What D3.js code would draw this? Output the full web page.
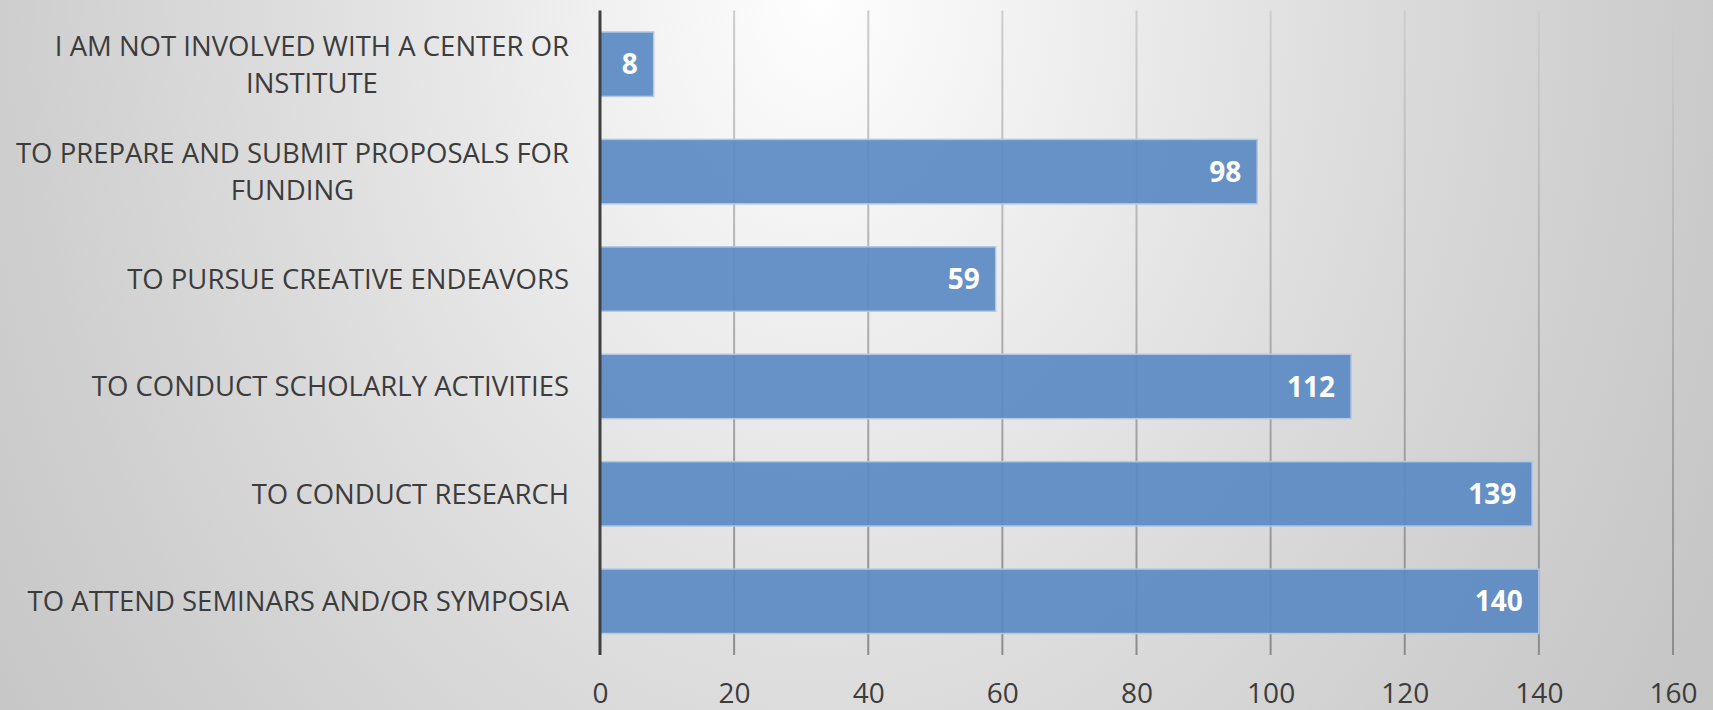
<!DOCTYPE html>
<html lang="en">
<head>
    <meta charset="UTF-8">
    <title>Center or Institute Involvement</title>
    <script src="https://cdn.jsdelivr.net/npm/d3@7"></script>
    <style>
        body, html {
            margin: 0;
            padding: 0;
            overflow: hidden;
        }
        svg {
            display: block;
        }
        text {
            font-family: "Open Sans", sans-serif;
        }
        .cat-label {
            font-size: 27.5px;
            fill: #3c3c3c;
        }
        .tick text {
            font-size: 28px;
            fill: #3c3c3c;
        }
        .value-label {
            font-size: 28px;
            font-weight: bold;
            fill: #fff;
        }
    </style>
</head>
<body>
    <script>
        // categories top to bottom, "\n" marks where the label wraps
        const categories = [
            "I AM NOT INVOLVED WITH A CENTER OR\nINSTITUTE",
            "TO PREPARE AND SUBMIT PROPOSALS FOR\nFUNDING",
            "TO PURSUE CREATIVE ENDEAVORS",
            "TO CONDUCT SCHOLARLY ACTIVITIES",
            "TO CONDUCT RESEARCH",
            "TO ATTEND SEMINARS AND/OR SYMPOSIA"
        ];
        const counts = [8, 98, 59, 112, 139, 140];
        const xTicks = [0, 20, 40, 60, 80, 100, 120, 140, 160];

        const width = 1713;
        const height = 710;
        const margin = {top: 10.5, right: 40, bottom: 55, left: 600};

        const svg = d3.select("body").append("svg")
            .attr("width", width)
            .attr("height", height);

        const defs = svg.append("defs");

        // soft grey backdrop, lightest near the top middle
        const bg = defs.append("radialGradient")
            .attr("id", "bg")
            .attr("gradientUnits", "userSpaceOnUse")
            .attr("cx", 0).attr("cy", 0).attr("r", 1)
            .attr("gradientTransform", "translate(820,0) scale(1000,1300)");
        bg.append("stop").attr("offset", 0).attr("stop-color", "#fefefe");
        bg.append("stop").attr("offset", 0.55).attr("stop-color", "#dcdcdc");
        bg.append("stop").attr("offset", 0.8).attr("stop-color", "#cfcfcf");
        bg.append("stop").attr("offset", 1).attr("stop-color", "#c6c6c6");

        const gridGrad = defs.append("linearGradient")
            .attr("id", "gridGrad")
            .attr("gradientUnits", "userSpaceOnUse")
            .attr("x1", 0).attr("y1", margin.top)
            .attr("x2", 0).attr("y2", height - margin.bottom);
        gridGrad.append("stop").attr("offset", 0).attr("stop-color", "#cdcdcd");
        gridGrad.append("stop").attr("offset", 1).attr("stop-color", "#8c8c8c");

        svg.append("rect")
            .attr("width", width)
            .attr("height", height)
            .attr("fill", "url(#bg)");

        const x = d3.scaleLinear()
            .domain([0, 160])
            .range([margin.left, width - margin.right]);

        const y = d3.scaleBand()
            .domain(categories)
            .range([margin.top, height - margin.bottom])
            .paddingInner(0.4)
            .paddingOuter(0.2);

        // vertical gridlines
        svg.append("g")
            .selectAll("line")
            .data(xTicks.slice(1))
            .join("line")
            .attr("x1", d => x(d))
            .attr("x2", d => x(d))
            .attr("y1", margin.top)
            .attr("y2", height - margin.bottom)
            .attr("stroke", "url(#gridGrad)")
            .attr("stroke-width", 2);

        // bars
        svg.append("g")
            .selectAll("rect")
            .data(categories)
            .join("rect")
            .attr("x", x(0))
            .attr("y", d => y(d))
            .attr("width", (d, i) => x(counts[i]) - x(0))
            .attr("height", y.bandwidth())
            .attr("fill", "#5b8ac3")
            .attr("fill-opacity", 0.92)
            .attr("stroke", "#b4c8e4")
            .attr("stroke-width", 1.5);

        // values inside bar ends
        svg.append("g")
            .selectAll("text")
            .data(categories)
            .join("text")
            .attr("class", "value-label")
            .attr("x", (d, i) => x(counts[i]) - 16)
            .attr("y", d => y(d) + y.bandwidth() / 2)
            .attr("dy", "0.36em")
            .attr("text-anchor", "end")
            .text((d, i) => counts[i]);

        // zero axis line
        svg.append("line")
            .attr("x1", x(0))
            .attr("x2", x(0))
            .attr("y1", margin.top)
            .attr("y2", height - margin.bottom)
            .attr("stroke", "#404040")
            .attr("stroke-width", 3);

        // bottom tick labels
        const xAxis = svg.append("g")
            .attr("transform", `translate(0,${height - margin.bottom})`)
            .call(d3.axisBottom(x).tickValues(xTicks).tickSize(0).tickPadding(28));
        xAxis.select(".domain").remove();
        xAxis.selectAll(".tick text").attr("font-family", null).attr("font-size", null);

        // category labels: wrapped lines centred on each other, block right-aligned
        const labelRight = x(0) - 31;
        const lineHeight = 37;
        categories.forEach(cat => {
            const lines = cat.split("\n");
            const g = svg.append("g");
            const texts = lines.map((line, i) => g.append("text")
                .attr("class", "cat-label")
                .attr("y", y(cat) + y.bandwidth() / 2 + (i - (lines.length - 1) / 2) * lineHeight)
                .attr("dy", "0.36em")
                .attr("text-anchor", "middle")
                .text(line));
            const maxW = d3.max(texts, t => t.node().getComputedTextLength());
            texts.forEach(t => t.attr("x", labelRight - maxW / 2));
        });
    </script>
</body>
</html>
